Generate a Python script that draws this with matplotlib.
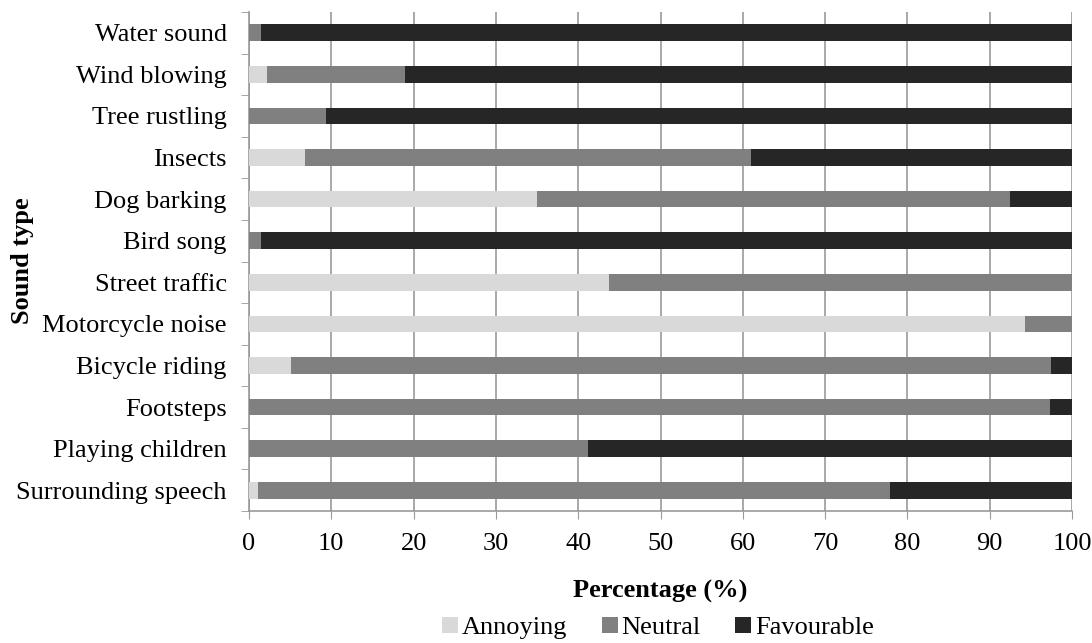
import matplotlib
matplotlib.use("Agg")
import matplotlib.pyplot as plt
import numpy as np

categories = ["Surrounding speech", "Playing children", "Footsteps", "Bicycle riding",
              "Motorcycle noise", "Street traffic", "Bird song", "Dog barking",
              "Insects", "Tree rustling", "Wind blowing", "Water sound"]
annoying = [1.1, 0.0, 0.0, 5.1, 94.3, 43.8, 0.0, 35.0, 6.8, 0.0, 2.2, 0.0]
neutral = [76.8, 41.2, 97.3, 92.4, 5.7, 56.2, 1.4, 57.5, 54.2, 9.4, 16.8, 1.4]
favourable = [100 - a - n for a, n in zip(annoying, neutral)]
series_names = ["Annoying", "Neutral", "Favourable"]
colors = ["#d9d9d9", "#808080", "#262626"]

plt.rcParams['font.family'] = ['Liberation Serif', 'DejaVu Serif']
FS = 19

fig = plt.figure(figsize=(10.92, 6.43), dpi=100)
ax = fig.add_axes([249/1092, 1-511/643, (1072-249)/1092, (511-12)/643])

y = np.arange(len(categories))
left = np.zeros(len(categories))
for vals, name, c in zip([annoying, neutral, favourable], series_names, colors):
    ax.barh(y, vals, left=left, height=0.4, color=c, label=name, zorder=3)
    left = left + np.array(vals)

ax.set_xlim(0, 100)
ax.set_ylim(-0.5, len(categories) - 0.5)
ax.set_xticks(np.arange(0, 101, 10))
ax.tick_params(axis='x', labelsize=FS, length=6, color='#999999', pad=10)
ax.set_yticks(y)
ax.set_yticklabels(categories)
ax.tick_params(axis='y', labelsize=FS, length=0, pad=16)
ax.set_yticks(np.arange(-0.5, len(categories), 1), minor=True)
ax.tick_params(axis='y', which='minor', length=6, color='#999999')
ax.grid(axis='x', color='#999999', linewidth=1.2, zorder=0)
for s in ['top', 'right']:
    ax.spines[s].set_visible(False)
ax.spines['left'].set_color('#999999')
ax.spines['bottom'].set_color('#999999')
ax.spines['left'].set_linewidth(1.2)
ax.spines['bottom'].set_linewidth(1.2)

fig.text(660/1092, 1-591/643, "Percentage (%)", fontsize=FS, fontweight='bold',
         ha='center', va='center')
fig.text(22/1092, 1-261/643, "Sound type", fontsize=FS, fontweight='bold',
         ha='center', va='center', rotation=90)

handles, labels = ax.get_legend_handles_labels()
fig.legend(handles, labels, loc='center', bbox_to_anchor=(658/1092, 1-628/643),
           ncol=3, frameon=False, fontsize=FS, handlelength=0.6, handleheight=0.6,
           handletextpad=0.15, columnspacing=1.3, borderpad=0)

fig.savefig("out.png", dpi=100)
